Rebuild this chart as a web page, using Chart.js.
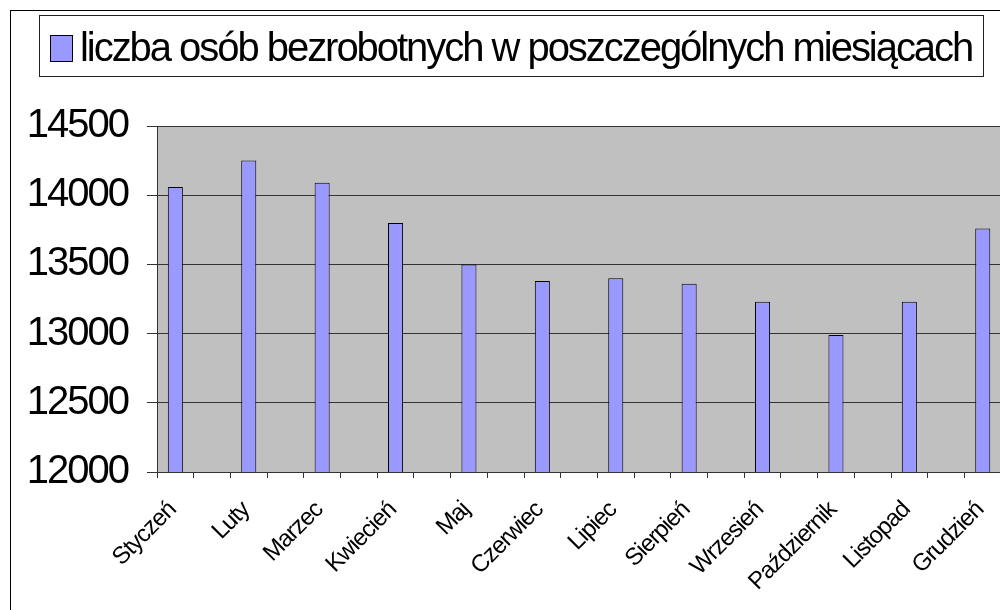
<!DOCTYPE html>
<html>
<head>
<meta charset="utf-8">
<script src="https://cdn.jsdelivr.net/npm/chart.js@4/dist/chart.umd.min.js"></script>
<style>
  html, body { margin: 0; padding: 0; background: #fff; overflow: hidden; width: 1000px; height: 610px; }
  #box { position: absolute; left: 10px; top: 10px; width: 1100px; height: 650px; border: 1px solid #000; overflow: hidden; }
  canvas { display: block; }
</style>
</head>
<body>
<div id="box"><canvas id="c" width="1100" height="650"></canvas></div>
<script>
const seriesName = 'liczba osób bezrobotnych w poszczególnych miesiącach';
const months = ['Styczeń','Luty','Marzec','Kwiecień','Maj','Czerwiec','Lipiec','Sierpień','Wrzesień','Październik','Listopad','Grudzień'];
const values = [14060, 14250, 14090, 13800, 13500, 13380, 13400, 13360, 13230, 12990, 13230, 13760];
const yTicks = [12000, 12500, 13000, 13500, 14000, 14500];

const FONT = '"Liberation Sans", Arial, sans-serif';
const BAR_COLOR = '#9999FF';

// Each month is followed by an empty slot (as in the original sheet)
const labels = [];
const data = [];
months.forEach((m, i) => { labels.push(m, ''); data.push(values[i], null); });

const plotBg = {
  id: 'plotBg',
  beforeDraw(chart) {
    const a = chart.chartArea, ctx = chart.ctx;
    ctx.save();
    ctx.fillStyle = '#C0C0C0';
    ctx.fillRect(a.left, a.top, a.right - a.left, a.bottom - a.top);
    ctx.restore();
  }
};

// Tighter letter spacing for the axis labels (like the original rendering)
const tightLabels = {
  id: 'tightLabels',
  beforeDraw(chart) {
    [['x', '-1px'], ['y', '-2px']].forEach(([id, ls]) => {
      const s = chart.scales[id];
      if (!s || s._tightWrapped) return;
      const orig = s.drawLabels;
      s.drawLabels = function (area) {
        const ctx = this.ctx;
        ctx.save();
        ctx.letterSpacing = ls;
        orig.call(this, area);
        ctx.restore();
      };
      s._tightWrapped = true;
    });
  }
};

const boxedLegend = {
  id: 'boxedLegend',
  afterDraw(chart) {
    const ctx = chart.ctx;
    const ds = chart.data.datasets[0];
    ctx.save();
    ctx.strokeStyle = '#222';
    ctx.lineWidth = 1;
    ctx.strokeRect(28.5, 4.5, 944, 61);
    ctx.fillStyle = ds.backgroundColor;
    ctx.fillRect(39, 24, 23, 27);
    ctx.strokeStyle = '#000';
    ctx.strokeRect(39.5, 24.5, 22, 26);
    ctx.font = '40px ' + FONT;
    ctx.fillStyle = '#000';
    ctx.textBaseline = 'alphabetic';
    const w = ctx.measureText(ds.label).width;
    const n = [...ds.label].length;
    ctx.letterSpacing = ((892 - w) / n).toFixed(2) + 'px';
    ctx.fillText(ds.label, 69, 50);
    ctx.restore();
  }
};

new Chart(document.getElementById('c'), {
  type: 'bar',
  data: {
    labels: labels,
    datasets: [{
      label: seriesName,
      data: data,
      backgroundColor: BAR_COLOR,
      borderColor: '#000',
      borderWidth: 1,
      borderSkipped: false,
      barPercentage: 0.41,
      categoryPercentage: 1.0
    }]
  },
  options: {
    responsive: false,
    devicePixelRatio: 1,
    animation: false,
    layout: { padding: { top: 115, left: 0, right: 73.2, bottom: 0 } },
    plugins: { legend: { display: false }, tooltip: { enabled: false } },
    scales: {
      x: {
        offset: true,
        grid: { offset: true, drawOnChartArea: false, color: '#333', tickLength: 6 },
        border: { color: '#333' },
        ticks: {
          autoSkip: false, maxRotation: 45, minRotation: 45,
          padding: 18, labelOffset: -3, color: '#000', font: { family: FONT, size: 24 }
        },
        afterFit(s) { s.height = 189; }
      },
      y: {
        min: yTicks[0], max: yTicks[yTicks.length - 1],
        afterBuildTicks(s) { s.ticks = yTicks.map(v => ({ value: v })); },
        grid: { color: '#333', tickLength: 10 },
        border: { color: '#333' },
        ticks: {
          padding: 19, color: '#000', font: { family: FONT, size: 40 },
          callback: v => String(v)
        },
        afterFit(s) { s.width = 146; }
      }
    }
  },
  plugins: [plotBg, tightLabels, boxedLegend]
});
</script>
</body>
</html>
